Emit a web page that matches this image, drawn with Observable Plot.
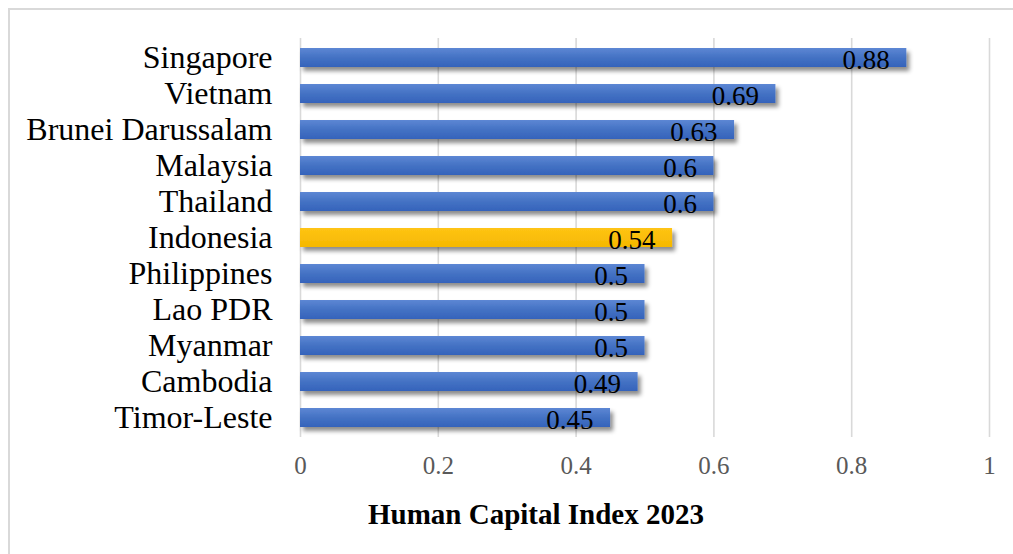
<!DOCTYPE html>
<html>
<head>
<meta charset="utf-8">
<script src="https://cdn.jsdelivr.net/npm/d3@7"></script>
<script src="https://cdn.jsdelivr.net/npm/@observablehq/plot@0.6"></script>
<style>
  html, body { margin: 0; padding: 0; background: #fff; overflow: hidden; width: 1013px; height: 554px; }
  #frame { position: absolute; left: 8px; top: 8px; width: 1100px; height: 600px; border: 2px solid #d9d9d9; box-sizing: border-box; }
  #chart { position: absolute; left: 0; top: 0; }
  #title { position: absolute; left: 0; top: 500px; width: 1072px; text-align: center; font-family: "Liberation Serif", "Times New Roman", serif; font-weight: bold; font-size: 29px; line-height: 29px; color: #000; }
</style>
</head>
<body>
<div id="frame"></div>
<div id="chart"></div>
<div id="title">Human Capital Index 2023</div>
<script>
const countries = ["Singapore", "Vietnam", "Brunei Darussalam", "Malaysia", "Thailand", "Indonesia", "Philippines", "Lao PDR", "Myanmar", "Cambodia", "Timor-Leste"];
const hciValues = [0.88, 0.69, 0.63, 0.6, 0.6, 0.54, 0.5, 0.5, 0.5, 0.49, 0.45];
const xTicks = [0, 0.2, 0.4, 0.6, 0.8, 1];
const highlighted = "Indonesia";

const data = countries.map((c, i) => ({country: c, value: hciValues[i]}));
const normal = data.filter(d => d.country !== highlighted);
const special = data.filter(d => d.country === highlighted);

const font = "'Liberation Serif', 'Times New Roman', serif";

const chart = Plot.plot({
  width: 1013,
  height: 490,
  marginLeft: 300,
  marginRight: 24,
  marginTop: 38,
  marginBottom: 53,
  style: { fontFamily: font, background: "transparent" },
  x: { domain: [0, 1], ticks: xTicks, tickFormat: d => String(d), label: null },
  y: { domain: countries, paddingInner: 0.47, paddingOuter: 0.235, label: null },
  marks: [
    Plot.gridX(xTicks, { stroke: "#d9d9d9", strokeOpacity: 1, strokeWidth: 1.6 }),
    Plot.axisX({ ticks: xTicks, tickFormat: d => String(d), tickSize: 0, tickPadding: 19, fontSize: 25, fill: "#595959", label: null, fontFamily: font }),
    Plot.axisY({ tickSize: 0, tickPadding: 28, fontSize: 32, fill: "#000", label: null, fontFamily: font }),
    Plot.barX(normal, { x: "value", y: "country", fill: "#4472C4", className: "bar-blue" }),
    Plot.barX(special, { x: "value", y: "country", fill: "#FFC000", className: "bar-gold" }),
    Plot.text(data, { x: "value", y: "country", text: d => String(d.value), textAnchor: "end", dx: -17, dy: 2, fontSize: 27, fill: "#000", fontFamily: font })
  ]
});

const svg = d3.select(chart);
const defs = svg.insert("defs", ":first-child");
const gb = defs.append("linearGradient").attr("id", "gBlue").attr("x1", 0).attr("y1", 0).attr("x2", 0).attr("y2", 1);
gb.append("stop").attr("offset", "0%").attr("stop-color", "#5d87d4");
gb.append("stop").attr("offset", "50%").attr("stop-color", "#4472C4");
gb.append("stop").attr("offset", "100%").attr("stop-color", "#3563bb");
const gg = defs.append("linearGradient").attr("id", "gGold").attr("x1", 0).attr("y1", 0).attr("x2", 0).attr("y2", 1);
gg.append("stop").attr("offset", "0%").attr("stop-color", "#ffc414");
gg.append("stop").attr("offset", "100%").attr("stop-color", "#f5b800");
const f = defs.append("filter").attr("id", "shadow").attr("x", "-5%").attr("y", "-50%").attr("width", "115%").attr("height", "250%");
f.append("feDropShadow").attr("dx", 3).attr("dy", 4).attr("stdDeviation", 2.2).attr("flood-color", "#000").attr("flood-opacity", 0.45);

svg.selectAll(".bar-blue").attr("fill", "url(#gBlue)").selectAll("rect").attr("filter", "url(#shadow)");
svg.selectAll(".bar-gold").attr("fill", "url(#gGold)").selectAll("rect").attr("filter", "url(#shadow)");

document.getElementById("chart").appendChild(chart);
</script>
</body>
</html>
